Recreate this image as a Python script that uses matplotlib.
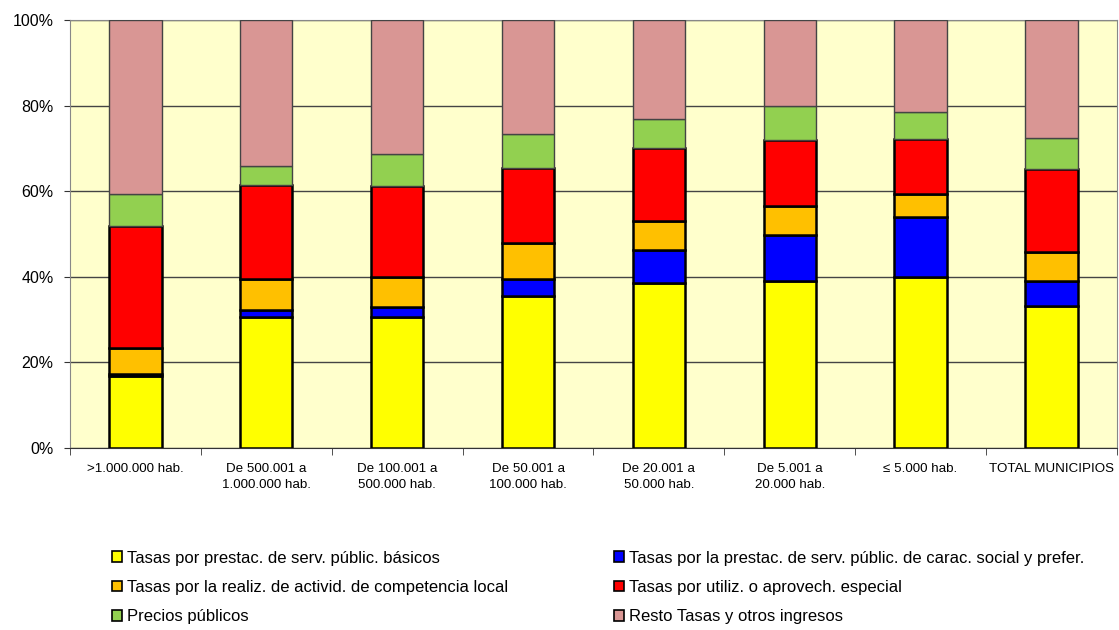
import numpy as np
import matplotlib.pyplot as plt
from matplotlib.patches import Patch
from matplotlib.ticker import PercentFormatter

plt.rcParams['font.family'] = ['Liberation Sans', 'DejaVu Sans']

categories = [">1.000.000 hab.", "De 500.001 a\n1.000.000 hab.", "De 100.001 a\n500.000 hab.",
              "De 50.001 a\n100.000 hab.", "De 20.001 a\n50.000 hab.", "De 5.001 a\n20.000 hab.",
              "≤ 5.000 hab.", "TOTAL MUNICIPIOS"]

basicos = [16.8, 30.6, 30.6, 35.6, 38.6, 39.1, 40.0, 33.1]
social = [0.5, 1.6, 2.3, 4.0, 7.7, 10.7, 13.9, 6.0]
competencia = [6.1, 7.4, 7.1, 8.3, 6.8, 6.7, 5.4, 6.6]
utiliz = [28.5, 21.8, 21.2, 17.6, 16.9, 15.6, 12.9, 19.4]
precios = [7.4, 4.6, 7.5, 8.0, 6.9, 7.8, 6.4, 7.3]
resto = [40.7, 34.0, 31.3, 26.5, 23.1, 20.1, 21.4, 27.6]

series = [
    ("Tasas por prestac. de serv. públic. básicos", basicos, "#FFFF00"),
    ("Tasas por la prestac. de serv. públic. de carac. social y prefer.", social, "#0000FF"),
    ("Tasas por la realiz. de activid. de competencia local", competencia, "#FFC000"),
    ("Tasas por utiliz. o aprovech. especial", utiliz, "#FF0000"),
    ("Precios públicos", precios, "#92D050"),
    ("Resto Tasas y otros ingresos", resto, "#D99694"),
]

fig = plt.figure(figsize=(11.19, 6.3), dpi=100)
ax = fig.add_axes([0.0626, 0.289, 0.9355, 0.679])
ax.set_facecolor("#FFFFCC")

x = np.arange(len(categories))
bottom = np.zeros(len(categories))
handles = {}
for i, (name, vals, col) in enumerate(series):
    lw = 1.8 if i < 4 else 1.0
    ec = "black" if i < 4 else "#444444"
    ax.bar(x, vals, width=0.4, bottom=bottom, color=col, edgecolor=ec, linewidth=lw, zorder=3)
    bottom += np.array(vals)
    handles[name] = Patch(facecolor=col, edgecolor="black", linewidth=1.2)

ax.set_xlim(-0.5, len(categories) - 0.5)
ax.set_ylim(0, 100)
ax.yaxis.set_major_formatter(PercentFormatter(decimals=0))
ax.set_yticks(range(0, 101, 20))
ax.tick_params(axis="y", labelsize=11.5, length=4, pad=8, direction="out", color="#333333")
ax.set_xticks(x)
ax.set_xticklabels(categories, fontsize=9.6, linespacing=1.45)
ax.tick_params(axis="x", which="major", length=0, pad=11)
ax.set_xticks(np.arange(-0.5, len(categories)), minor=True)
ax.tick_params(axis="x", which="minor", length=5, color="#333333")
ax.grid(axis="y", color="#444444", linewidth=1, zorder=1)
ax.set_axisbelow(True)

for s in ["top", "right", "left"]:
    ax.spines[s].set_color("#888888")
ax.spines["bottom"].set_color("#333333")

names = [s[0] for s in series]
left_names = [names[0], names[2], names[4]]
right_names = [names[1], names[3], names[5]]
for names_col, xpos in [(left_names, 0.100), (right_names, 0.549)]:
    leg = fig.legend([handles[n] for n in names_col], names_col, loc="upper left",
                     bbox_to_anchor=(xpos, 0.126), frameon=False, fontsize=12,
                     handlelength=0.6, handleheight=0.6, handletextpad=0.3,
                     labelspacing=0.86, borderaxespad=0, borderpad=0)

fig.savefig("out.png", dpi=100)
